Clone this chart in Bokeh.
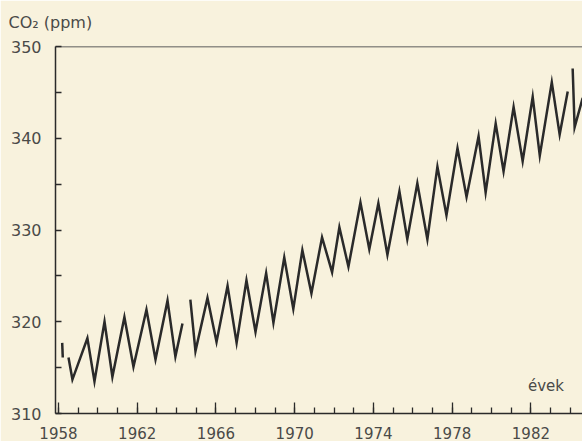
from bokeh.plotting import figure
from bokeh.models import Range1d, Span, Label, FixedTicker
from bokeh.embed import file_html
from bokeh.resources import INLINE

# ---- data ----
seg1_years = [1958.19, 1958.22]
seg1_ppm = [317.7, 316.1]

seg2_years = [1958.51, 1958.71, 1959.47, 1959.83, 1960.34, 1960.74, 1961.35, 1961.81,
              1962.47, 1962.93, 1963.54, 1963.94, 1964.30]
seg2_ppm = [316.1, 313.7, 318.2, 313.5, 320.0, 314.0, 320.5, 315.1,
            321.3, 315.9, 322.3, 316.2, 319.8]

seg3_years = [1964.70, 1964.96, 1965.57, 1966.03, 1966.59, 1967.05, 1967.55, 1968.01,
              1968.55, 1968.92, 1969.47, 1969.93, 1970.39, 1970.85, 1971.39, 1971.90,
              1972.27, 1972.73, 1973.34, 1973.79, 1974.25, 1974.71, 1975.32, 1975.72,
              1976.23, 1976.74, 1977.25, 1977.71, 1978.27, 1978.73, 1979.34, 1979.70,
              1980.21, 1980.61, 1981.12, 1981.58, 1982.09, 1982.45, 1983.06, 1983.46,
              1983.87]
seg3_ppm = [322.4, 316.8, 322.6, 317.8, 323.9, 317.7, 324.5, 318.9,
            325.3, 319.9, 327.0, 321.4, 327.8, 323.1, 329.2, 325.4,
            330.3, 326.0, 333.0, 327.9, 332.9, 327.3, 334.2, 329.0,
            335.1, 329.0, 336.9, 331.6, 338.9, 333.6, 340.2, 334.1,
            341.6, 336.4, 343.4, 337.5, 344.5, 338.1, 346.1, 340.4,
            345.1]

seg4_years = [1984.12, 1984.22, 1984.63]
seg4_ppm = [347.6, 341.2, 344.4]

x_major = [1958, 1962, 1966, 1970, 1974, 1978, 1982]
x_minor = list(range(1958, 1985))
y_major = [310, 320, 330, 340, 350]
y_minor = [315, 325, 335, 345]

title_text = "CO\u2082 (ppm)"
x_label_text = "évek"

# ---- styling ----
BG = "#f8f2dd"
INK = "#2a2a2a"
TXT = "#4a4a48"
FONT = "DejaVu Sans"

p = figure(width=582, height=441,
           x_range=Range1d(1957.85, 1984.62), y_range=Range1d(310, 350),
           output_backend="svg", toolbar_location=None,
           min_border_left=55, min_border_right=0, min_border_top=0, min_border_bottom=0)
p.background_fill_color = BG
p.border_fill_color = BG
p.outline_line_color = None
p.grid.visible = False

p.title.text = title_text
p.title.align = "left"
p.title.vertical_align = "top"
p.title.offset = -47
p.title.standoff = 25
p.title.text_font = FONT
p.title.text_font_size = "16px"
p.title.text_font_style = "normal"
p.title.text_color = TXT

for xs, ys in [(seg1_years, seg1_ppm), (seg2_years, seg2_ppm),
               (seg3_years, seg3_ppm), (seg4_years, seg4_ppm)]:
    p.line(x=xs, y=ys, line_color=INK, line_width=2.5, line_join="miter")

p.add_layout(Span(location=350, dimension="width", line_color=INK, line_width=1.5))

xa = p.xaxis[0]
xa.ticker = FixedTicker(ticks=x_major, minor_ticks=x_minor)
xa.major_tick_in = 11
xa.major_tick_out = 0
xa.minor_tick_in = 6
xa.minor_tick_out = 0
xa.major_label_standoff = 13
xa.major_label_text_font_size = "15px"

ya = p.yaxis[0]
ya.ticker = FixedTicker(ticks=y_major, minor_ticks=y_minor)
ya.major_tick_in = 6
ya.major_tick_out = 0
ya.minor_tick_in = 6
ya.minor_tick_out = 0
ya.major_label_standoff = 14
ya.major_label_text_font_size = "16px"

for ax in (xa, ya):
    ax.axis_line_color = INK
    ax.axis_line_width = 1.5
    ax.major_tick_line_color = INK
    ax.minor_tick_line_color = INK
    ax.major_tick_line_width = 1.3
    ax.minor_tick_line_width = 1.3
    ax.major_label_text_font = FONT
    ax.major_label_text_color = TXT

p.add_layout(Label(x=1981.85, y=313.0, text=x_label_text, text_font=FONT,
                   text_font_size="15px", text_color=TXT, text_baseline="alphabetic"))

open("out.html", "w").write(file_html(p, INLINE))
